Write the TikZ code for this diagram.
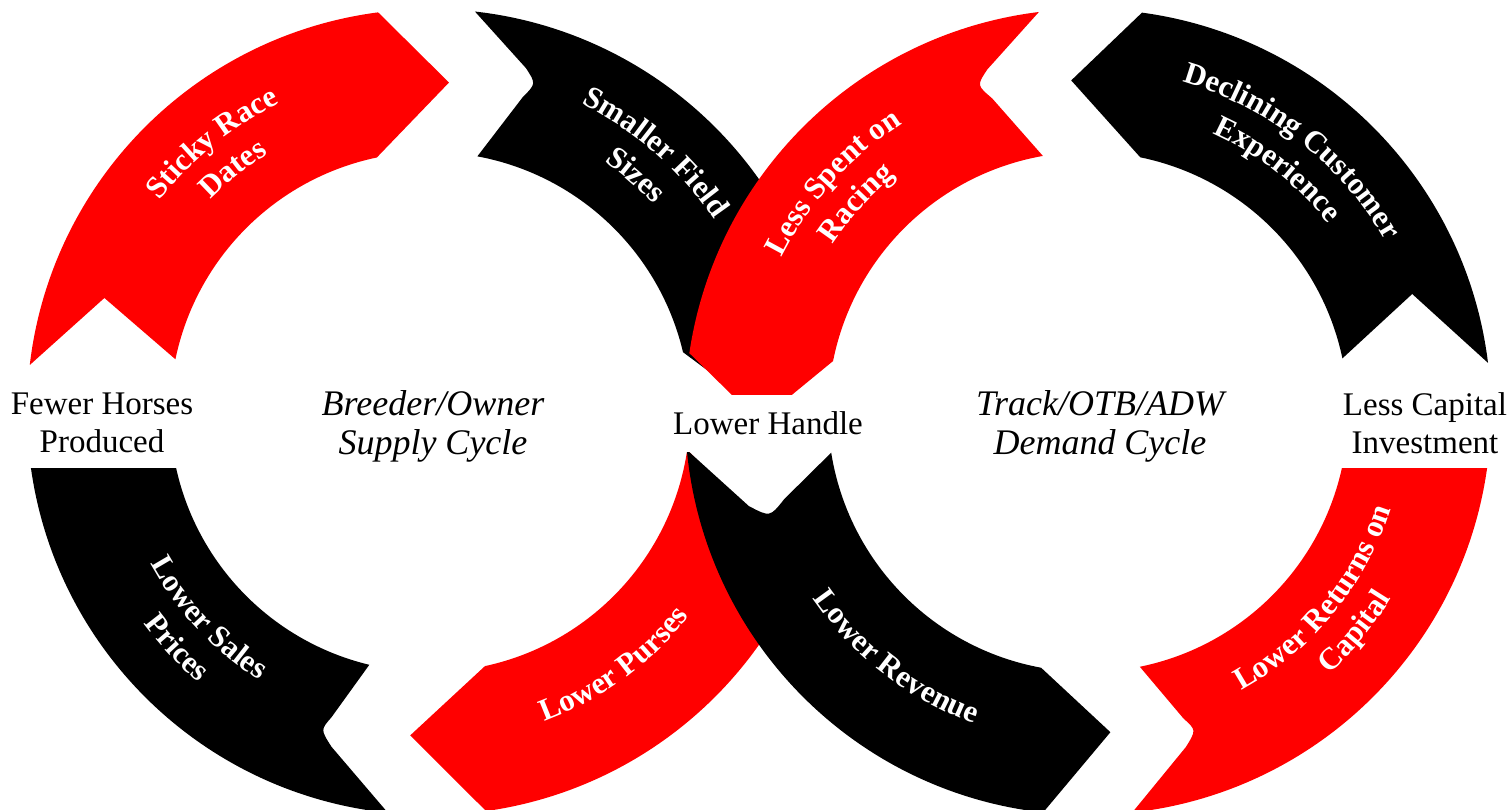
\documentclass[tikz,border=0pt]{standalone}
\usepackage{fontspec}
\setmainfont{Liberation Serif}
\usetikzlibrary{calc, decorations.text}

\newcommand{\lblfont}{\fontsize{31}{31}\selectfont\bfseries}

\tikzset{
  redband/.style={fill=red},
  blackband/.style={fill=black},
  sidetext/.style={fill=white, align=center, inner sep=0pt, font=\fontsize{33}{38}\selectfont},
  cycletext/.style={align=center, font=\fontsize{36}{39}\selectfont\itshape},
  arclabel/.style={decorate, decoration={text along path, text align=center, text color=white, text={|\lblfont|#1}}}
}

\begin{document}
\begin{tikzpicture}[x=1pt, y=1pt]
    \useasboundingbox (0,0) rectangle (1509,810);
    \coordinate (lc) at (430,398);
    \coordinate (rc) at (1088,398);

    % supply cycle, clockwise
    \fill[redband] ($(lc)+(173.3:403)$) arc[start angle=173.3, end angle=97.4, radius=403pt] -- ($(lc)+(86.7:330)$) -- ($(lc)+(101.8:260)$) arc[start angle=101.8, end angle=168.3, radius=260pt] -- ($(lc)+(160.7:345)$) -- cycle;
    \fill[blackband] ($(lc)+(83.6:403)$) arc[start angle=83.6, end angle=13.3, radius=403pt] -- ($(lc)+(0.3:331)$) -- ($(lc)+(13.3:260)$) arc[start angle=13.3, end angle=79.5, radius=260pt] -- ($(lc)+(73.6:328)$) .. controls ($(lc)+(72.1:345)$) .. ($(lc)+(74.4:357)$) -- cycle;
    \fill[redband] ($(lc)+(-20:403)$) arc[start angle=-20, end angle=-82, radius=403pt] -- ($(lc)+(-93.5:324)$) -- ($(lc)+(-77.8:260)$) arc[start angle=-77.8, end angle=-8.4, radius=260pt] -- ($(lc)+(-18.4:348)$) -- cycle;
    \fill[blackband] ($(lc)+(264:403)$) arc[start angle=264, end angle=187.5, radius=403pt] -- ($(lc)+(175.5:331)$) -- ($(lc)+(189:260)$) arc[start angle=189, end angle=256.5, radius=260pt] -- ($(lc)+(252.1:321)$) .. controls ($(lc)+(251:336)$) .. ($(lc)+(253.6:349)$) -- cycle;

    % demand cycle, counter clockwise
    \fill[blackband] ($(rc)+(7:403)$) arc[start angle=7, end angle=82.3, radius=403pt] -- ($(rc)+(92.9:332)$) -- ($(rc)+(78.4:260)$) arc[start angle=78.4, end angle=11.9, radius=260pt] -- ($(rc)+(20:345)$) -- cycle;
    \fill[redband] ($(rc)+(276.3:403)$) arc[start angle=276.3, end angle=353, radius=403pt] -- ($(rc)+(364:331)$) -- ($(rc)+(350:260)$) arc[start angle=350, end angle=281.5, radius=260pt] -- ($(rc)+(287.3:321)$) .. controls ($(rc)+(288.8:336)$) .. ($(rc)+(286.3:349)$) -- cycle;
    \fill[redband] ($(rc)+(97:403)$) arc[start angle=97, end angle=171.6, radius=403pt] -- ($(rc)+(181.7:329)$) -- ($(rc)+(168.7:260)$) arc[start angle=168.7, end angle=100, radius=260pt] -- ($(rc)+(107:328)$) .. controls ($(rc)+(108.8:345)$) .. ($(rc)+(106.4:357)$) -- cycle;
    \fill[blackband] ($(rc)+(185.4:403)$) arc[start angle=185.4, end angle=263.6, radius=403pt] -- ($(rc)+(274:321)$) -- ($(rc)+(259.6:260)$) arc[start angle=259.6, end angle=189, radius=260pt] -- ($(rc)+(196:316)$) .. controls ($(rc)+(198.3:335)$) .. ($(rc)+(195.5:352)$) -- cycle;

    % labels on the arrows
    \path[arclabel={Sticky Race}] ($(lc)+(169:343)$) arc[start angle=169, end angle=89, radius=343pt];
    \path[arclabel={Dates}] ($(lc)+(169:305)$) arc[start angle=169, end angle=89, radius=305pt];
    \path[arclabel={Smaller Field}] ($(lc)+(89:343)$) arc[start angle=89, end angle=9, radius=343pt];
    \path[arclabel={Sizes}] ($(lc)+(89:305)$) arc[start angle=89, end angle=9, radius=305pt];
    \path[arclabel={Lower Sales}] ($(lc)+(183:318)$) arc[start angle=183, end angle=263, radius=318pt];
    \path[arclabel={Prices}] ($(lc)+(183:356)$) arc[start angle=183, end angle=263, radius=356pt];
    \path[arclabel={Lower Purses}] ($(lc)+(266:330)$) arc[start angle=266, end angle=346, radius=330pt];

    \path[arclabel={Less Spent on}] ($(rc)+(178:343)$) arc[start angle=178, end angle=98, radius=343pt];
    \path[arclabel={Racing}] ($(rc)+(178:305)$) arc[start angle=178, end angle=98, radius=305pt];
    \path[arclabel={Declining Customer}] ($(rc)+(92:343)$) arc[start angle=92, end angle=12, radius=343pt];
    \path[arclabel={Experience}] ($(rc)+(92:305)$) arc[start angle=92, end angle=12, radius=305pt];
    \path[arclabel={Lower Revenue}] ($(rc)+(192:332)$) arc[start angle=192, end angle=272, radius=332pt];
    \path[arclabel={Lower Returns on}] ($(rc)+(280.5:318)$) arc[start angle=280.5, end angle=360.5, radius=318pt];
    \path[arclabel={Capital}] ($(rc)+(280.5:356)$) arc[start angle=280.5, end angle=360.5, radius=356pt];

    % side texts
    \node[sidetext, minimum width=204pt, minimum height=90pt] (fewer) at (102,387) {Fewer Horses\\Produced};
    \node[sidetext, minimum width=200pt, minimum height=57pt] (handle) at (768,386.5) {Lower Handle};
    \node[sidetext, minimum width=180pt, minimum height=90pt] (capital) at (1425,387) {Less Capital\\Investment};

    \node[cycletext] (supply) at (433,384) {Breeder/Owner\\Supply Cycle};
    \node[cycletext] (demand) at (1100,384) {Track/OTB/ADW\\Demand Cycle};
\end{tikzpicture}
\end{document}
